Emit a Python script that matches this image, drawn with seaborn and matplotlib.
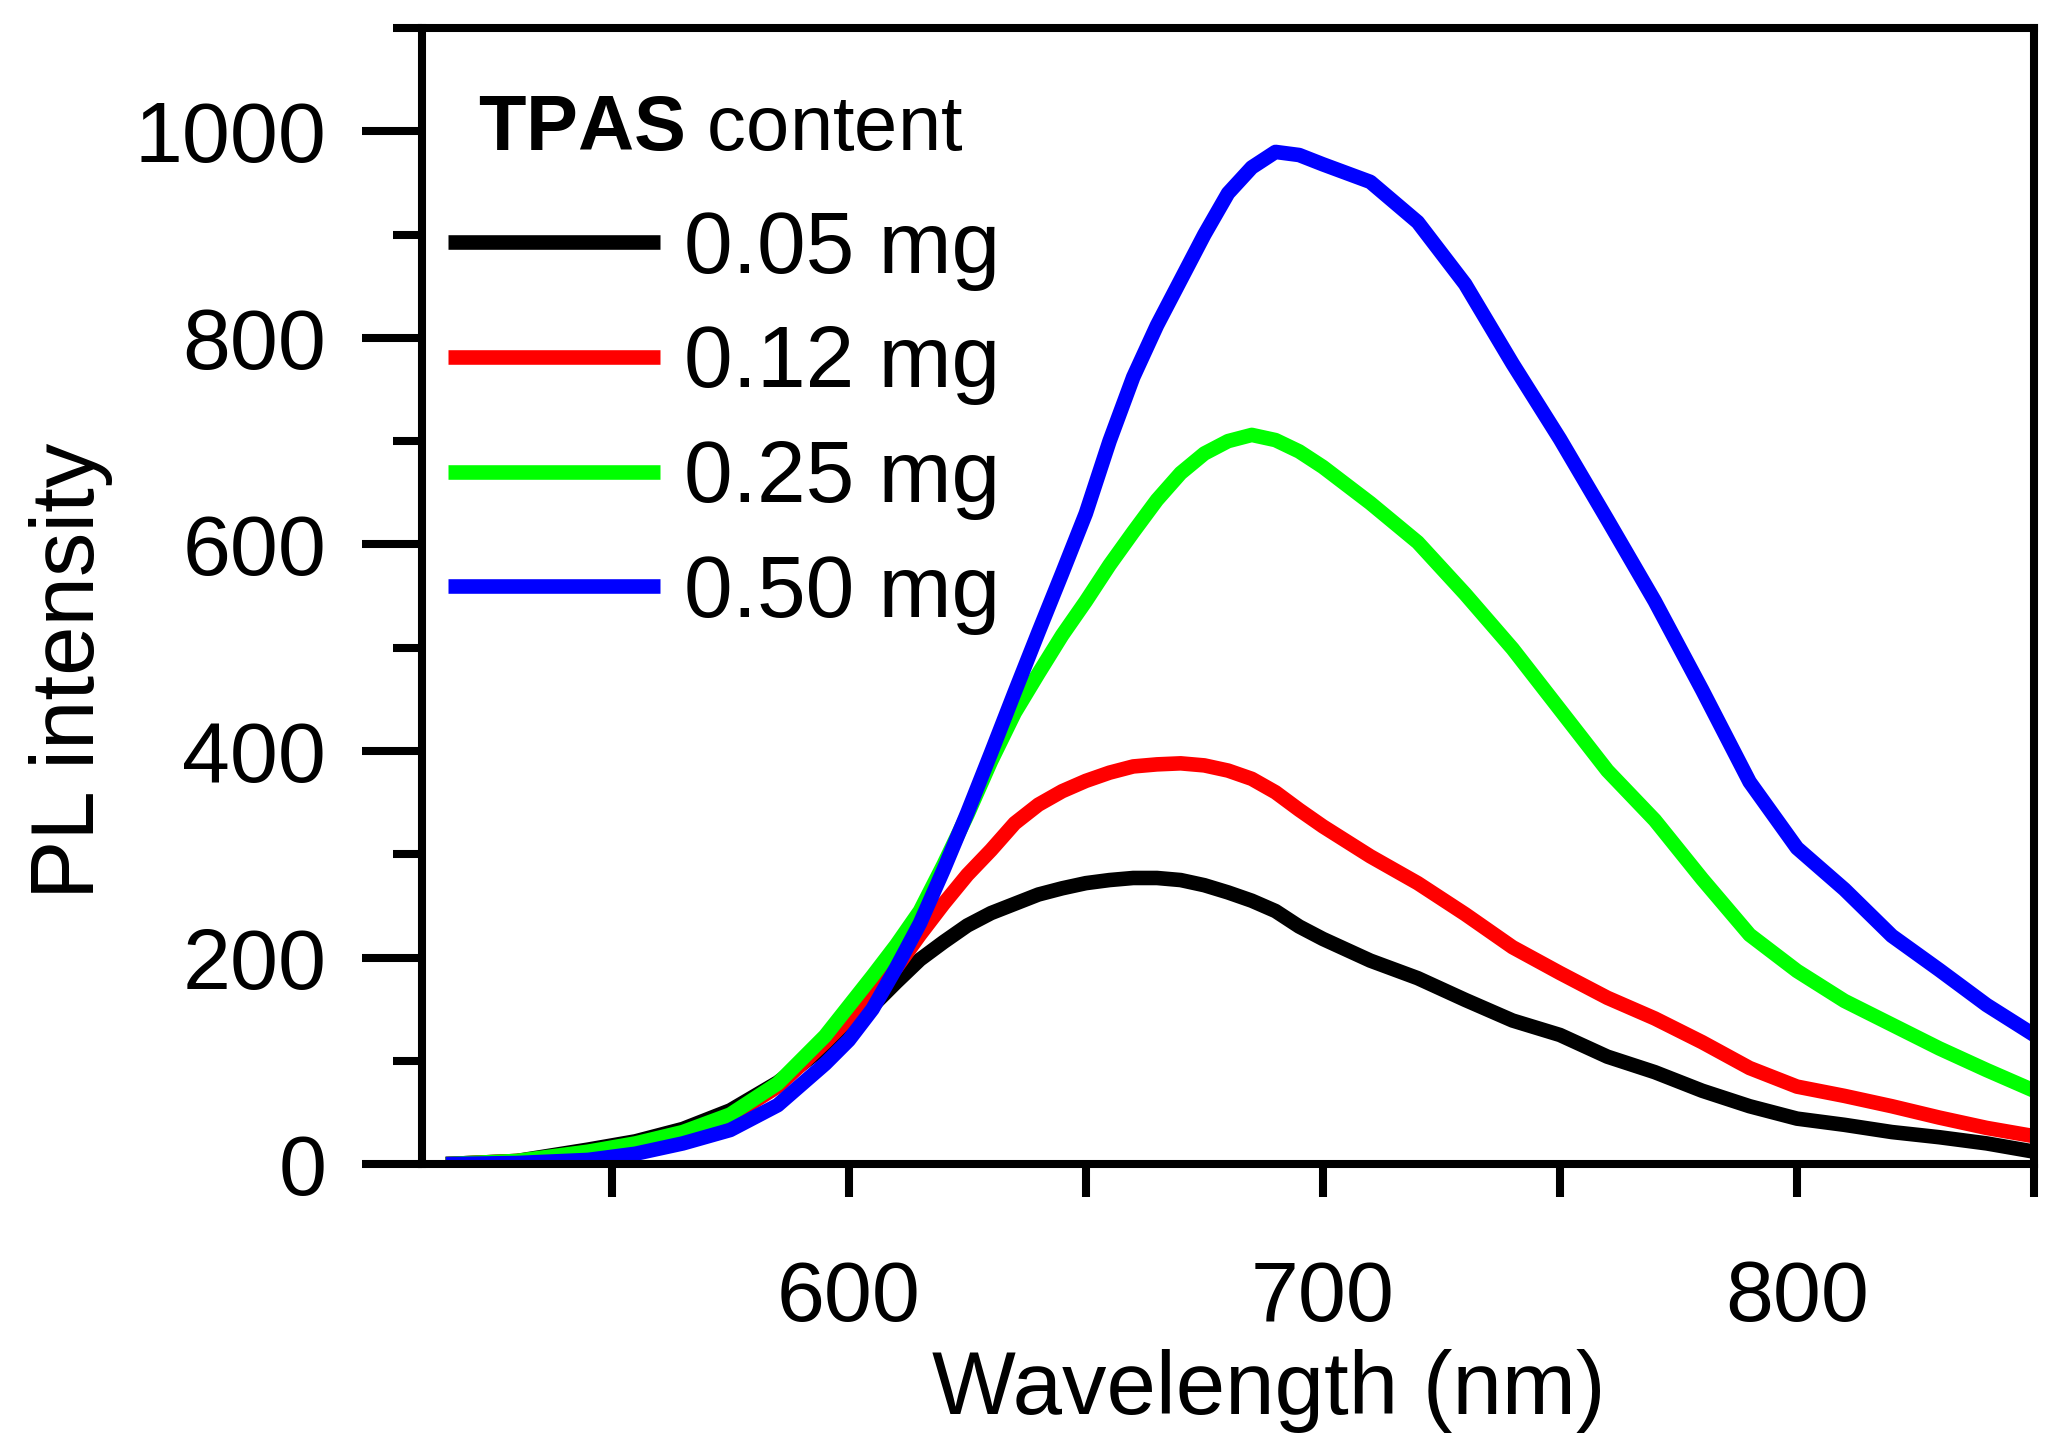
"""
PL spectra vs TPAS content — redrawn with seaborn.
"""

import numpy as np
import pandas as pd
import matplotlib
matplotlib.use("Agg")
import matplotlib.pyplot as plt
import seaborn as sns
from matplotlib.ticker import FixedLocator


WAVELENGTH = [515, 530, 545, 555, 565, 575, 585, 595,
              600, 605, 610, 615, 620, 625, 630, 635, 640, 645, 650, 655, 660,
              665, 670, 675, 680, 685, 690, 695, 700,
              710, 720, 730, 740, 750, 760, 770, 780, 790, 800, 810, 820, 830, 840, 850]

PL_005 = [0, 3, 14, 22, 34, 52, 79, 114,
          132, 153, 176, 198, 215, 231, 243, 252, 261, 267, 272, 275, 277,
          277, 275, 270, 263, 255, 245, 230, 218,
          197, 180, 159, 139, 125, 104, 89, 71, 56, 44, 38, 31, 26, 20, 12]

PL_012 = [0, 3, 10, 17, 28, 46, 75, 118,
          141, 166, 190, 222, 252, 280, 304, 330, 348, 361, 371, 379, 385,
          387, 388, 386, 381, 373, 360, 343, 327,
          298, 272, 242, 210, 185, 161, 141, 118, 93, 75, 66, 56, 45, 35, 27]

PL_025 = [0, 3, 12, 20, 31, 48, 78, 124,
          153, 182, 212, 245, 290, 338, 390, 437, 475, 512, 545, 580, 612,
          643, 669, 688, 700, 706, 701, 690, 675,
          640, 602, 552, 499, 440, 381, 333, 276, 222, 187, 158, 135, 112, 91, 71]

PL_050 = [0, 1, 4, 10, 20, 33, 57, 97,
          120, 150, 190, 233, 285, 340, 398, 457, 515, 572, 630, 700, 762,
          812, 856, 900, 940, 965, 980, 977, 968,
          951, 912, 852, 775, 702, 624, 545, 459, 370, 306, 266, 221, 188, 154, 125]

SERIES = {"0.05 mg": PL_005, "0.12 mg": PL_012, "0.25 mg": PL_025, "0.50 mg": PL_050}
COLORS = ["#000000", "#ff0000", "#00ff00", "#0000ff"]

X_MAJOR = [600, 700, 800]
X_MINOR = [550, 650, 750, 850]
Y_MAJOR = [0, 200, 400, 600, 800, 1000]
Y_MINOR = [100, 300, 500, 700, 900, 1100]

sns.set_style("ticks")
plt.rcParams["font.family"] = ["Liberation Sans", "DejaVu Sans"]
plt.rcParams["mathtext.fontset"] = "custom"
plt.rcParams["mathtext.rm"] = "Liberation Sans"
plt.rcParams["mathtext.bf"] = "Liberation Sans:bold"
for key in ["text.color", "axes.labelcolor", "xtick.color", "ytick.color",
            "xtick.labelcolor", "ytick.labelcolor", "axes.edgecolor"]:
    plt.rcParams[key] = "black"

rows = []
for name, vals in SERIES.items():
    for w, v in zip(WAVELENGTH, vals):
        rows.append({"wavelength": w, "intensity": v, "content": name})
df = pd.DataFrame(rows)

fig = plt.figure(figsize=(20.72, 14.43), dpi=100)
ax = fig.add_axes([0.2037, 0.1933, 0.778, 0.7873])

sns.lineplot(data=df, x="wavelength", y="intensity", hue="content",
             palette=COLORS, estimator=None, linewidth=10.5, legend=False, ax=ax)
for ln in ax.lines:
    ln.set_solid_capstyle("butt")
    ln.set_solid_joinstyle("round")

ax.set_xlim(510, 850)
ax.set_ylim(0, 1100)

for s in ax.spines.values():
    s.set_linewidth(5.8)
    s.set_color("black")

ax.xaxis.set_major_locator(FixedLocator(X_MAJOR))
ax.xaxis.set_minor_locator(FixedLocator(X_MINOR))
ax.yaxis.set_major_locator(FixedLocator(Y_MAJOR))
ax.yaxis.set_minor_locator(FixedLocator(Y_MINOR))
ax.tick_params(axis="x", which="both", direction="out", length=24, width=5.8,
               labelsize=62, pad=44, color="black", labelcolor="black")
ax.tick_params(axis="y", which="major", direction="out", length=43, width=5.8,
               labelsize=62, pad=26, color="black", labelcolor="black")
ax.tick_params(axis="y", which="minor", direction="out", length=21, width=5.8,
               color="black")

ax.set_xlabel("Wavelength (nm)", fontsize=64, color="black")
ax.set_ylabel("PL intensity", fontsize=64, color="black")
ax.xaxis.set_label_coords(0.525, -0.20)
ax.xaxis.label.set_va("center")
ax.yaxis.set_label_coords(-0.218, 0.434)
ax.yaxis.label.set_va("center")

# legend title drawn on its own so its spacing can match the original
ax.text(0.1855, 0.911, r"$\mathbf{TPAS}$ content", transform=ax.transAxes,
        fontsize=56, ha="center", va="center", color="black")

leg = ax.legend(ax.lines, list(SERIES.keys()), loc="upper left",
                bbox_to_anchor=(0.016, 0.840), frameon=False,
                fontsize=63, handlelength=2.42, handletextpad=0.28,
                labelspacing=0.385, borderpad=0, borderaxespad=0)
for h in leg.get_lines():
    h.set_linewidth(10.5)
for t in leg.get_texts():
    t.set_color("black")

fig.savefig("out.png", dpi=100)
